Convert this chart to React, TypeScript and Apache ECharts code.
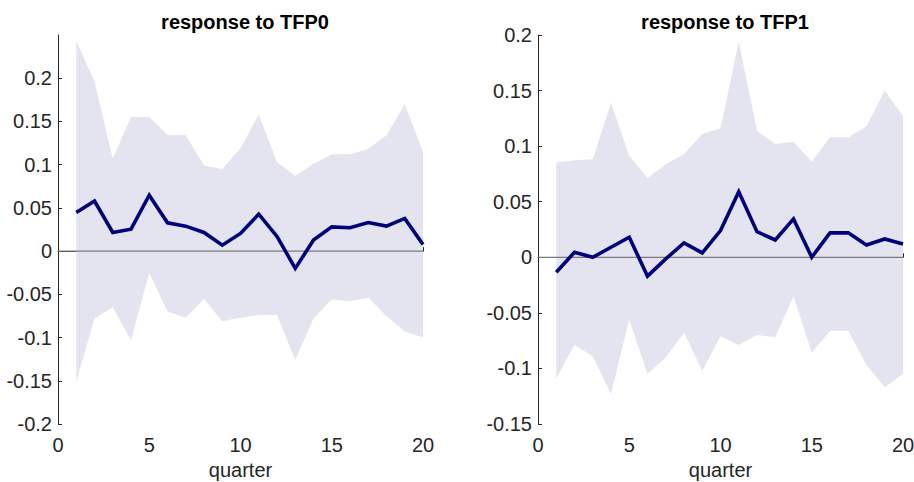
import React, { useEffect, useRef } from "react";
import * as echarts from "echarts";

const quarters = [1, 2, 3, 4, 5, 6, 7, 8, 9, 10, 11, 12, 13, 14, 15, 16, 17, 18, 19, 20];

const tfp0Response = [0.0447, 0.058, 0.0216, 0.0254, 0.0647, 0.0327, 0.0289, 0.0216, 0.0069, 0.0204, 0.0428, 0.017, -0.02, 0.0127, 0.028, 0.027, 0.033, 0.029, 0.0378, 0.0077];
const tfp0Upper = [0.243, 0.196, 0.107, 0.155, 0.155, 0.134, 0.134, 0.099, 0.095, 0.119, 0.158, 0.103, 0.087, 0.101, 0.112, 0.112, 0.118, 0.134, 0.17, 0.115];
const tfp0Lower = [-0.151, -0.078, -0.065, -0.103, -0.025, -0.07, -0.077, -0.055, -0.081, -0.077, -0.074, -0.074, -0.126, -0.078, -0.056, -0.058, -0.054, -0.075, -0.093, -0.1];

const tfp1Response = [-0.0135, 0.0045, 0.0, 0.009, 0.018, -0.017, -0.0015, 0.013, 0.004, 0.024, 0.059, 0.023, 0.0156, 0.0345, 0.0, 0.022, 0.022, 0.011, 0.0165, 0.012];
const tfp1Upper = [0.0853, 0.0874, 0.0883, 0.139, 0.0913, 0.0713, 0.0838, 0.0928, 0.111, 0.116, 0.194, 0.1137, 0.102, 0.104, 0.086, 0.108, 0.108, 0.118, 0.15, 0.127];
const tfp1Lower = [-0.109, -0.079, -0.089, -0.123, -0.056, -0.105, -0.09, -0.068, -0.102, -0.071, -0.079, -0.07, -0.072, -0.035, -0.086, -0.066, -0.066, -0.097, -0.117, -0.105];

const xTicks = [0, 5, 10, 15, 20];
const yTicksLeft = [-0.2, -0.15, -0.1, -0.05, 0, 0.05, 0.1, 0.15, 0.2];
const yTicksRight = [-0.15, -0.1, -0.05, 0, 0.05, 0.1, 0.15, 0.2];

const titles = ["response to TFP0", "response to TFP1"];
const xName = "quarter";

const FONT = "'Liberation Sans', Arial, Helvetica, sans-serif";
const AXIS = "#262626";
const BAND = "#e4e4f0";
const LINE = "#00007f";

const pair = (arr: number[]) => quarters.map((q, i) => [q, arr[i]]);
const fmt = (v: number) => String(parseFloat(v.toFixed(2)));

export default function App() {
  const ref = useRef<HTMLDivElement>(null);
  useEffect(() => {
    if (!ref.current) return;
    const chart = echarts.init(ref.current, null, { renderer: "svg" });

    const grids = [
      { left: 58, right: 491, top: 35, bottom: 58, containLabel: false, outerBoundsMode: "none" },
      { left: 538, right: 11, top: 35, bottom: 58, containLabel: false, outerBoundsMode: "none" },
    ];
    const yRanges = [
      { min: -0.2, max: 0.25, ticks: yTicksLeft },
      { min: -0.15, max: 0.2, ticks: yTicksRight },
    ];
    const sets = [
      { r: tfp0Response, u: tfp0Upper, l: tfp0Lower },
      { r: tfp1Response, u: tfp1Upper, l: tfp1Lower },
    ];

    const xAxis = grids.map((_, i) => ({
      type: "value",
      gridIndex: i,
      min: 0,
      max: 20,
      interval: 5,
      name: xName,
      nameLocation: "middle",
      nameGap: 35,
      nameTextStyle: { fontFamily: FONT, fontSize: 20, color: AXIS },
      axisLine: { show: true, lineStyle: { color: AXIS, width: 1 } },
      axisTick: { show: true, inside: true, length: 4, lineStyle: { color: AXIS }, customValues: xTicks },
      axisLabel: { fontFamily: FONT, fontSize: 20, color: AXIS, margin: 11, customValues: xTicks },
      splitLine: { show: false },
    }));

    const yAxis = grids.map((_, i) => ({
      type: "value",
      gridIndex: i,
      min: yRanges[i].min,
      max: yRanges[i].max,
      axisLine: { show: true, lineStyle: { color: AXIS, width: 1 } },
      axisTick: {
        show: true,
        inside: true,
        length: 4,
        lineStyle: { color: AXIS },
        customValues: yRanges[i].ticks,
      },
      axisLabel: {
        fontFamily: FONT,
        fontSize: 20,
        color: AXIS,
        margin: 6,
        customValues: yRanges[i].ticks,
        formatter: (v: number) => fmt(v),
      },
      splitLine: { show: false },
    }));

    const series: any[] = [];
    sets.forEach((s, i) => {
      [s.u, s.l].forEach((b) => {
        series.push({
          type: "line",
          xAxisIndex: i,
          yAxisIndex: i,
          data: pair(b),
          symbol: "none",
          lineStyle: { width: 0, opacity: 0 },
          areaStyle: { color: BAND, opacity: 1, origin: 0 },
          silent: true,
          z: 1,
        });
      });
      series.push({
        type: "line",
        xAxisIndex: i,
        yAxisIndex: i,
        data: [
          [0, 0],
          [20, 0],
        ],
        symbol: "none",
        lineStyle: { color: "#7a7a7a", width: 1.3 },
        silent: true,
        z: 2,
      });
      series.push({
        type: "line",
        xAxisIndex: i,
        yAxisIndex: i,
        data: pair(s.r),
        symbol: "none",
        lineStyle: { color: LINE, width: 3.6, join: "miter" },
        z: 3,
      });
    });

    chart.setOption({
      animation: false,
      backgroundColor: "#ffffff",
      title: titles.map((t, i) => ({
        text: t,
        left: i === 0 ? 240 : 720,
        top: 7,
        textAlign: "center",
        textStyle: { fontFamily: FONT, fontSize: 20, fontWeight: "bold", color: "#000000" },
      })),
      grid: grids,
      xAxis,
      yAxis,
      series,
    });
    return () => chart.dispose();
  }, []);

  return <div ref={ref} style={{ width: 914, height: 482, position: "absolute", left: 0, top: 0 }} />;
}
